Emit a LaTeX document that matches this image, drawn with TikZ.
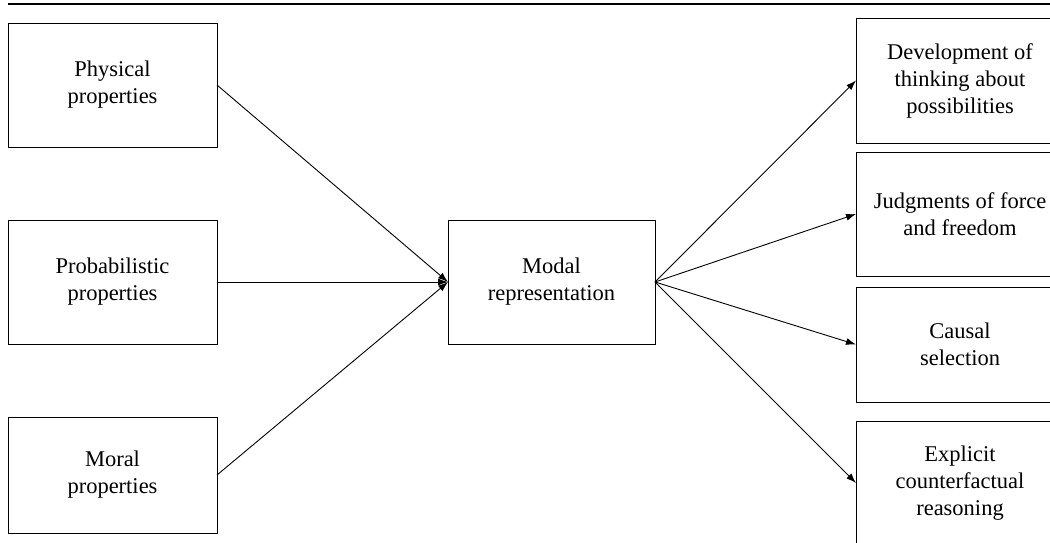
\documentclass[tikz,border=0pt]{standalone}
\usepackage{fontspec}
\setmainfont{Liberation Serif}
\usetikzlibrary{arrows.meta}
\begin{document}
\begin{tikzpicture}[x=1pt,y=-1pt,
  box/.style={draw, line width=1pt, rectangle, inner sep=0pt, outer sep=0pt, align=center,
    font=\fontsize{22.5}{27}\selectfont},
  conn/.style={line width=0.9pt, -{Latex[length=10pt,width=7pt]}}]
\useasboundingbox (0,0) rectangle (1050,542);
\clip (0,0) rectangle (1050,542);
\coordinate (tl) at (8,4);
\coordinate (tr) at (1050,4);
\draw[line width=1.2pt] (tl) -- (tr);
\node[box, minimum width=209pt, minimum height=124pt] (phys) at (112.5,85) {Physical\\properties};
\node[box, minimum width=209pt, minimum height=124pt] (prob) at (112.5,282) {Probabilistic\\properties};
\node[box, minimum width=209pt, minimum height=116pt] (moral) at (112.5,475) {Moral\\properties};
\node[box, minimum width=207pt, minimum height=124pt] (modal) at (551.5,282) {Modal\\representation};
\node[box, minimum width=208pt, minimum height=125pt] (dev) at (960,80.5) {Development of\\thinking about\\possibilities};
\node[box, minimum width=208pt, minimum height=124pt] (judg) at (960,214) {Judgments of force\\and freedom};
\node[box, minimum width=208pt, minimum height=115pt] (caus) at (960,344.5) {Causal\\selection};
\node[box, minimum width=208pt, minimum height=124pt] (expl) at (960,483) {Explicit\\counterfactual\\reasoning};
\draw[conn] (phys.east) -- (modal.west);
\draw[conn] (prob.east) -- (modal.west);
\draw[conn] (moral.east) -- (modal.west);
\draw[conn] (modal.east) -- (dev.west);
\draw[conn] (modal.east) -- (judg.west);
\draw[conn] (modal.east) -- (caus.west);
\draw[conn] (modal.east) -- (expl.west);
\end{tikzpicture}
\end{document}
